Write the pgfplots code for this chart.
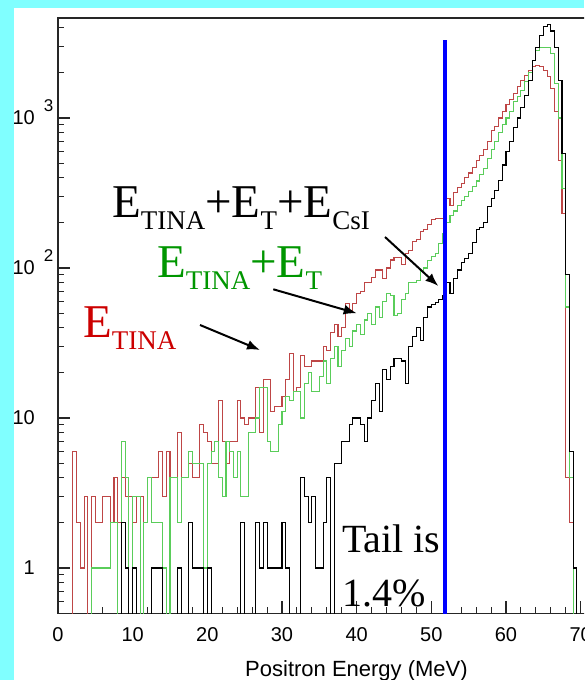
\documentclass[border=0pt]{standalone}
\usepackage{fontspec}
\setmainfont{Liberation Serif}
\newfontfamily\helv{Liberation Sans}
\usepackage{pgfplots}
\pgfplotsset{compat=1.18}
\usepackage{pgfplotstable}
\usetikzlibrary{arrows.meta}
\definecolor{bgcyan}{RGB}{128,255,255}
\definecolor{hred}{RGB}{190,70,70}
\definecolor{hgreen}{RGB}{90,205,90}
\definecolor{lblred}{RGB}{204,0,0}
\definecolor{lblgreen}{RGB}{0,150,0}
\newcommand\sub[1]{\raisebox{-12pt}{\fontsize{27}{27}\selectfont #1}}
\newcommand\expo[1]{\smash{\rlap{\hspace{9pt}\raisebox{13pt}{\fontsize{17}{17}\selectfont #1}}}}
% bins of 0.5 MeV (left edge E); 0.01 marks an empty bin
\pgfplotstableread{
E R G K
0 0.01 0.01 0.01
0.5 0.01 0.01 0.01
1 0.01 0.01 0.01
1.5 0.01 0.01 0.01
2 6 0.01 0.01
2.5 2 0.01 0.01
3 1 0.01 0.01
3.5 3 0.01 0.01
4 0.01 0.01 0.01
4.5 3 1 0.01
5 2 1 0.01
5.5 2 1 0.01
6 3 1 0.01
6.5 3 1 0.01
7 2 2 0.01
7.5 4 2 0.01
8 2 0.01 0.01
8.5 4 7 2
9 3 4 1
9.5 3 0.01 0.01
10 2 3 1
10.5 3 3 0.01
11 3 0.01 0.01
11.5 2 2 0.01
12 4 4 0.01
12.5 4 2 1
13 4 2 1
13.5 6 2 1
14 3 1 0.01
14.5 6 0.01 0.01
15 4 4 0.01
15.5 4 4 0.01
16 8 2 1
16.5 4 4 0.01
17 4 4 0.01
17.5 5 6 2
18 4 5 1
18.5 4 5 1
19 9 5 1
19.5 8 1 0.01
20 7 5 1
20.5 5 6 0.01
21 5 7 0.01
21.5 13 4 0.01
22 7 3 0.01
22.5 5 7 0.01
23 7 6 0.01
23.5 7 4 0.01
24 13 6 0.01
24.5 10 3 2
25 9 3 0.01
25.5 10 8 0.01
26 10 8 0.01
26.5 16 10 2
27 8 16 1
27.5 18 16 2
28 18 7 1
28.5 11 6 1
29 12 6 1
29.5 12 9 1
30 14 11 2
30.5 18 14 1
31 27 13 0.01
31.5 15 15 0.01
32 16 15 0.01
32.5 26 10 4
33 22 17 3
33.5 22 20 2
34 24 15 3
34.5 24 15 1
35 24 19 1
35.5 30 24 2
36 28 17 4
36.5 37 25 0.01
37 42 30 5
37.5 35 22 5
38 40 28 7
38.5 58 34 7
39 52 30 9
39.5 58 38 10
40 68 42 10
40.5 70 36 9
41 80 45 7
41.5 80 50 10
42 87 42 13
42.5 97 55 17
43 97 47 11
43.5 85 60 21
44 100 68 18
44.5 113 66 22
45 118 48 25
45.5 118 50 25
46 105 62 24
46.5 125 68 17
47 130 80 30
47.5 150 80 35
48 155 83 40
48.5 175 95 33
49 180 100 47
49.5 195 112 55
50 210 120 57
50.5 215 125 59
51 215 145 62
51.5 215 170 66
52 290 200 80
52.5 262 225 68
53 320 240 85
53.5 345 260 97
54 365 280 109
54.5 400 300 116
55 430 325 125
55.5 470 350 148
56 520 380 180
56.5 560 420 185
57 620 460 200
57.5 700 540 256
58 820 620 292
58.5 880 700 330
59 1000 800 385
59.5 1110 900 486
60 1230 1000 600
60.5 1320 1100 700
61 1460 1290 860
61.5 1620 1400 1000
62 1780 1530 1170
62.5 1930 1750 1420
63 2080 2000 1780
63.5 2200 2400 2400
64 2250 2800 2930
64.5 2200 2930 3570
65 2080 2930 4100
65.5 1900 2950 4170
66 1580 2700 3800
66.5 1110 1700 2930
67 520 1000 1780
67.5 230 340 580
68 4 55 90
68.5 2 4 6
69 1 0.01 1
69.5 0.01 0.01 0.01
70 0.01 0.01 0.01
}\histdata

\begin{document}
\begin{tikzpicture}
\useasboundingbox (0pt,0pt) rectangle (584pt,680pt);
\begin{scope}
\clip (0pt,0pt) rectangle (584pt,680pt);
\fill[bgcyan] (0pt,0pt) rectangle (584pt,680pt);
\fill[white] (14pt,0pt) rectangle (584pt,672pt);
\begin{axis}[
  at={(58pt,66.8pt)}, anchor=south west,
  scale only axis, width=537.6pt, height=595.2pt,
  xmin=0, xmax=72, ymode=log, ymin=0.5, ymax=4640,
  axis line style={line width=1.2pt, black!85},
  every tick/.style={line width=1.1pt, black!85},
  tick align=inside, tick pos=left,
  major tick length=12pt, minor tick length=6pt,
  xtick={0,10,...,70}, minor x tick num=4,
  ytick={1,10,100,1000},
  yticklabels={1,10,{10\expo{2}},{10\expo{3}}},
  minor ytick={0.6,0.7,0.8,0.9,2,3,4,5,6,7,8,9,20,30,40,50,60,70,80,90,200,300,400,500,600,700,800,900,2000,3000,4000},
  /pgf/number format/assume math mode=true,
  xticklabel style={font=\helv\fontsize{20}{20}\selectfont, inner sep=0pt, yshift=-14pt},
  yticklabel style={font=\helv\fontsize{20}{20}\selectfont, anchor=east, inner sep=0pt, xshift=-23pt},
]
\addplot[const plot, hred, line width=1.1pt] table[x=E, y=R] {\histdata};
\addplot[const plot, hgreen, line width=1.1pt] table[x=E, y=G] {\histdata};
\addplot[const plot, black, line width=1.1pt] table[x=E, y=K] {\histdata};
\addplot[blue, line width=4pt] coordinates {(51.83,0.3) (51.83,3310)};
\end{axis}
\draw[line width=2pt, -{Latex[length=13pt,width=10pt]}] (385pt,443pt) -- (438.3pt,394pt);
\draw[line width=2pt, -{Latex[length=13pt,width=10pt]}] (273.3pt,390.7pt) -- (356.7pt,366.7pt);
\draw[line width=2pt, -{Latex[length=13pt,width=10pt]}] (200pt,355pt) -- (260pt,330pt);
\node[anchor=base west, inner sep=0pt, font=\fontsize{47}{47}\selectfont] at (112pt,462pt) {E\sub{TINA}+E\sub{T}+E\sub{CsI}};
\node[anchor=base west, inner sep=0pt, text=lblgreen, font=\fontsize{47}{47}\selectfont] at (157pt,402pt) {E\sub{TINA}+E\sub{T}};
\node[anchor=base west, inner sep=0pt, text=lblred, font=\fontsize{47}{47}\selectfont] at (83pt,342pt) {E\sub{TINA}};
\node[anchor=base west, inner sep=0pt, font=\fontsize{40}{40}\selectfont] at (342pt,127pt) {Tail is};
\node[anchor=base west, inner sep=0pt, font=\fontsize{40}{40}\selectfont] at (342pt,73pt) {1.4\%};
\node[anchor=base, inner sep=0pt, font=\helv\fontsize{22}{22}\selectfont] at (356.5pt,4pt) {Positron Energy (MeV)};
\end{scope}
\end{tikzpicture}
\end{document}
